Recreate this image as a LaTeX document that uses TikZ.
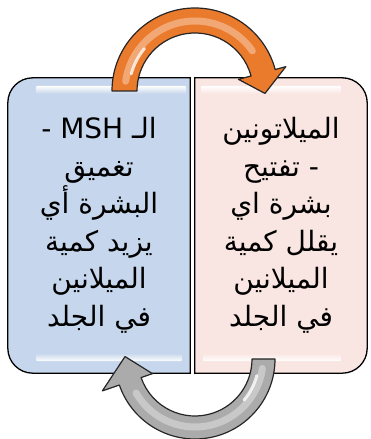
\documentclass[tikz,border=0pt]{standalone}
\usepackage{fontspec}
\newfontfamily\arabicfont[Script=Arabic]{DejaVu Sans}
\TeXXeTstate=1
\usetikzlibrary{backgrounds}
\definecolor{boxblue}{HTML}{C6D6EC}
\definecolor{boxpink}{HTML}{F9E5E1}
\definecolor{arroworange}{HTML}{EA7A2C}
\definecolor{arrowgray}{HTML}{ABABAB}
\tikzset{
  box text/.style={font=\arabicfont\fontsize{28}{37.5}\selectfont, align=center,
    minimum width=182pt, minimum height=295pt, inner sep=0pt},
  box edge/.style={draw=black, line width=1.3pt},
  bend arrow/.style={draw=black!85, line width=1.2pt, line join=round},
}
\begin{document}
\begin{tikzpicture}[x=1pt,y=1pt]
  \useasboundingbox (0,0) rectangle (370,439);

  \node[box text] (msh) at (99,213.5) {
    \beginR الـ \beginL MSH\endL{} -\endR\\
    \beginR تغميق\endR\\
    \beginR البشرة أي\endR\\
    \beginR يزيد كمية\endR\\
    \beginR الميلانين\endR\\
    \beginR في الجلد\endR};
  \node[box text, minimum width=172pt] (mel) at (281,213.5) {
    \beginR الميلاتونين\endR\\
    \beginR - تفتيح\endR\\
    \beginR بشرة اي\endR\\
    \beginR يقلل كمية\endR\\
    \beginR الميلانين\endR\\
    \beginR في الجلد\endR};

  \begin{scope}[on background layer]
    \draw[box edge, fill=boxblue] (msh.north east) -- ([xshift=25pt]msh.north west)
      arc[start angle=90, end angle=180, radius=25] -- ([yshift=25pt]msh.south west)
      arc[start angle=180, end angle=270, radius=25] -- (msh.south east) -- cycle;
    \draw[box edge, fill=boxpink] (mel.north west) -- ([xshift=-25pt]mel.north east)
      arc[start angle=90, end angle=0, radius=25] -- ([yshift=25pt]mel.south east)
      arc[start angle=0, end angle=-90, radius=25] -- (mel.south west) -- cycle;

    \shade[top color=white, bottom color=boxblue, rounded corners=2]
      ([xshift=28pt,yshift=-8pt]msh.north west) rectangle ([xshift=-4pt,yshift=-16pt]msh.north east);
    \shade[top color=boxblue, bottom color=white, rounded corners=2]
      ([xshift=28pt,yshift=20pt]msh.south west) rectangle ([xshift=-8pt,yshift=12pt]msh.south east);
    \shade[top color=white, bottom color=boxpink, rounded corners=2]
      ([xshift=6pt,yshift=-8pt]mel.north west) rectangle ([xshift=-26pt,yshift=-16pt]mel.north east);
    \shade[top color=boxpink, bottom color=white, rounded corners=2]
      ([xshift=8pt,yshift=20pt]mel.south west) rectangle ([xshift=-26pt,yshift=12pt]mel.south east);
  \end{scope}

  \coordinate (upper) at (195,348);
  \coordinate (lower) at (195,80);

  \begin{scope}[shift={(upper)}]
    \draw[bend arrow, fill=arroworange] (180:83) arc[start angle=180, end angle=15, radius=83]
      -- (15:94) -- (-2:70) -- (15:45) -- (15:58)
      arc[start angle=15, end angle=180, radius=58] -- cycle;
    \draw[white, opacity=.35, line width=7pt, line cap=round] (172:70) arc[start angle=172, end angle=35, radius=70];
    \draw[white, opacity=.8, line width=3pt, line cap=round] (165:66) arc[start angle=165, end angle=140, radius=66];
  \end{scope}

  \begin{scope}[shift={(lower)}]
    \draw[bend arrow, fill=arrowgray] (0:80) arc[start angle=0, end angle=-161, radius=80]
      -- (-161:98) -- (178:70) -- (-161:45) -- (-161:57)
      arc[start angle=-161, end angle=0, radius=57] -- cycle;
    \draw[white, opacity=.35, line width=7pt, line cap=round] (-8:68) arc[start angle=-8, end angle=-150, radius=68];
    \draw[white, opacity=.8, line width=3pt, line cap=round] (-15:64) arc[start angle=-15, end angle=-40, radius=64];
  \end{scope}
\end{tikzpicture}
\end{document}
